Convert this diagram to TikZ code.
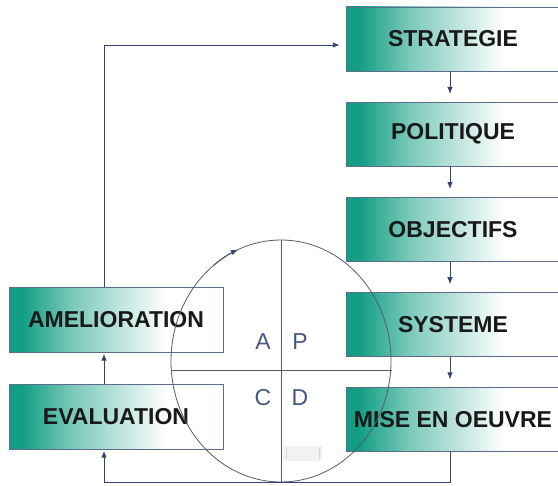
\documentclass[tikz,border=0pt]{standalone}
\usepackage{fontspec}
\setmainfont{Liberation Sans}
\usepackage{tikz}
\usetikzlibrary{shapes,arrows,arrows.meta,positioning}
\definecolor{boxteal}{RGB}{18,158,132}
\definecolor{linecol}{RGB}{52,70,112}
\definecolor{circcol}{RGB}{84,90,110}
\definecolor{lettercol}{RGB}{70,86,130}
\pgfdeclarehorizontalshading{fade}{100bp}{color(0bp)=(boxteal); color(28bp)=(boxteal); color(40bp)=(boxteal!55); color(62bp)=(white); color(100bp)=(white)}
\tikzstyle{block} = [draw=linecol!80, shading=fade, minimum height=65pt, inner sep=0pt, text=black!90, font=\bfseries\fontsize{23}{27}\selectfont]
\tikzstyle{rblock} = [block, minimum width=214pt, minimum height=64pt]
\tikzstyle{lblock} = [block, minimum width=214pt]
\tikzstyle{letter} = [text=lettercol, font=\fontsize{23}{27}\selectfont]
\tikzstyle{arrow} = [draw=linecol, line width=0.9pt, ->, >={Latex[length=7pt,width=5.5pt]}]

\begin{document}
\begin{tikzpicture}[x=1pt, y=-1pt, node distance=30.75pt]
    \useasboundingbox (0,0) rectangle (558,486);

    % plan cycle on the right
    \node[rblock] (strat) at (453,39) {STRATEGIE};
    \node[rblock, below=of strat] (polit) {POLITIQUE};
    \node[rblock, below=of polit] (objec) {OBJECTIFS};
    \node[rblock, below=of objec] (syst) {SYSTEME};
    \node[rblock, below=of syst] (mise) {MISE EN OEUVRE};

    % check / act on the left
    \node[lblock] (amel) at (116,320) {AMELIORATION};
    \node[lblock] (eval) at (116,417) {EVALUATION};

    % PDCA wheel
    \draw[circcol, line width=0.8pt] (281,361) ellipse [x radius=110pt, y radius=121pt];
    \draw[circcol, line width=0.8pt] (281,240) -- (281,482);
    \draw[circcol, line width=0.8pt] (172,370) -- (392,370);
    \draw[linecol, line width=0.8pt, -{Latex[length=7pt,width=5.5pt]}] (281,361) ++(128:110pt and 121pt)
        arc[start angle=128, end angle=113, x radius=110pt, y radius=121pt];
    \node[letter] (la) at (263,342) {A};
    \node[letter] (lp) at (300,342) {P};
    \node[letter] (lc) at (263,398) {C};
    \node[letter] (ld) at (300,398) {D};
    \fill[gray!10] (283,446) rectangle (322,461);
    \draw[gray!35] (286,448) -- (286,459) (319,448) -- (319,459);

    \coordinate (ctop) at (104,45);
    \coordinate (cbot) at (104,482);

    \draw[arrow, shorten >=8pt] (strat.south -| 450,0) -- (polit.north -| 450,0);
    \draw[arrow, shorten >=8pt] (polit.south -| 450,0) -- (objec.north -| 450,0);
    \draw[arrow, shorten >=8pt] (objec.south -| 450,0) -- (syst.north -| 450,0);
    \draw[arrow, shorten >=8pt] (syst.south -| 450,0) -- (mise.north -| 450,0);

    \draw[arrow, shorten >=1pt] (mise.south -| 450,0) -- (450,482) -- (cbot) -- (eval.south -| cbot);
    \draw[arrow, shorten >=1pt] (eval.north -| ctop) -- (amel.south -| ctop);
    \draw[arrow, shorten >=6pt] (amel.north -| ctop) -- (ctop) -- (strat.west |- ctop);
\end{tikzpicture}
\end{document}
